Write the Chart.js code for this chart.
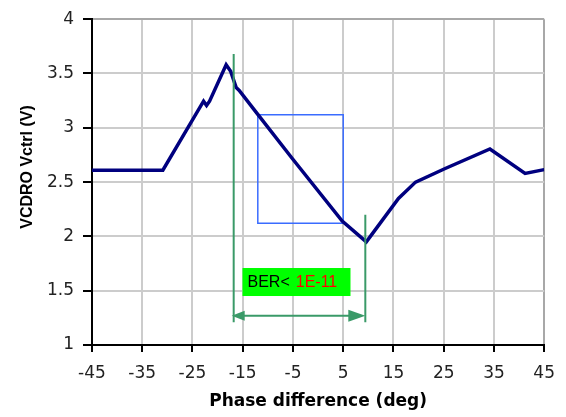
<!DOCTYPE html>
<html>
<head>
<meta charset="utf-8">
<script src="https://cdn.jsdelivr.net/npm/chart.js@4/dist/chart.umd.min.js"></script>
<style>
  html, body { margin: 0; padding: 0; background: #fff; }
  #wrap { width: 566px; height: 417px; }
</style>
</head>
<body>
<div id="wrap"><canvas id="chart" width="566" height="417"></canvas></div>
<script>
// VCDRO control voltage vs phase difference
const phaseDeg = [-45, -30.9, -22.8, -22.2, -21.6, -18.3, -17.4, -16.3, -15.7, -12.0, -5.1, 4.8, 9.6, 16.0, 19.4, 25.3, 34.2, 41.2, 45];
const vctrl    = [2.61, 2.61, 3.245, 3.205, 3.245, 3.58, 3.52, 3.37, 3.345, 3.123, 2.715, 2.141, 1.95, 2.35, 2.50, 2.625, 2.805, 2.58, 2.615];

const xTickValues = [-45, -35, -25, -15, -5, 5, 15, 25, 35, 45];
const yTickStep = 0.5;

// zoom window (blue box)
const boxPhase = [-12, 5];
const boxVolt = [2.12, 3.12];

// BER < 1E-11 window markers
const berLeftPhase = -16.8;
const berRightPhase = 9.4;
const berLeftTop = 3.68;
const berRightTop = 2.2;
const berBottom = 1.21;
const berArrowVolt = 1.27;
const berLabel = ['BER<', '1E-11'];
const berLabelPos = [-4.3, 1.58]; // centre of label (phase, volt)

const yTitle = 'VCDRO Vctrl (V)';

const green = '#3a9a68';
const tickFont = { family: '"DejaVu Sans", sans-serif', size: 17 };

function pts(xs, ys) { return xs.map((x, i) => ({ x: x, y: ys[i] })); }

const annotate = {
  id: 'annotate',
  afterDatasetsDraw(chart) {
    const { ctx, scales: { x, y } } = chart;
    ctx.save();
    // arrow shaft and heads
    const xl = x.getPixelForValue(berLeftPhase);
    const xr = x.getPixelForValue(berRightPhase);
    const ya = y.getPixelForValue(berArrowVolt);
    ctx.strokeStyle = green;
    ctx.fillStyle = green;
    ctx.lineWidth = 2;
    ctx.beginPath();
    ctx.moveTo(xl + 4, ya);
    ctx.lineTo(xr - 4, ya);
    ctx.stroke();
    ctx.beginPath();
    ctx.moveTo(xl - 2, ya);
    ctx.lineTo(xl + 11, ya - 5);
    ctx.lineTo(xl + 11, ya + 5);
    ctx.closePath();
    ctx.fill();
    ctx.beginPath();
    ctx.moveTo(xr, ya);
    ctx.lineTo(xr - 17, ya - 6);
    ctx.lineTo(xr - 17, ya + 6);
    ctx.closePath();
    ctx.fill();

    // label box
    const cx = x.getPixelForValue(berLabelPos[0]);
    const cy = y.getPixelForValue(berLabelPos[1]);
    const bw = 108, bh = 28;
    ctx.fillStyle = '#00ff00';
    ctx.fillRect(cx - bw / 2, cy - bh / 2, bw, bh);
    ctx.font = '16px "Liberation Sans", Arial, sans-serif';
    ctx.textBaseline = 'middle';
    ctx.textAlign = 'left';
    const w1 = ctx.measureText(berLabel[0]).width;
    const tx = cx - bw / 2 + 5;
    ctx.fillStyle = '#000';
    ctx.fillText(berLabel[0], tx, cy + 1);
    ctx.fillStyle = '#ff0000';
    ctx.fillText(berLabel[1], tx + w1 + 6, cy + 1);

    // y axis title
    ctx.translate(28, 167);
    ctx.rotate(-Math.PI / 2);
    ctx.textAlign = 'center';
    ctx.textBaseline = 'middle';
    ctx.fillStyle = '#000';
    ctx.font = 'bold 16px "Liberation Sans", Arial, sans-serif';
    ctx.fillText(yTitle, 0, 0);
    ctx.restore();
  }
};

const edgeGrid = (ctx, axisMax) => (ctx.tick && ctx.tick.value === axisMax ? '#a8a8a8' : '#cccccc');

new Chart(document.getElementById('chart').getContext('2d'), {
  type: 'scatter',
  data: {
    datasets: [
      {
        label: 'VCDRO Vctrl',
        data: pts(phaseDeg, vctrl),
        showLine: true,
        borderColor: '#00007f',
        borderWidth: 3.5,
        pointRadius: 0,
        tension: 0,
        order: 1
      },
      {
        label: 'window',
        data: pts([boxPhase[0], boxPhase[1], boxPhase[1], boxPhase[0], boxPhase[0]],
                  [boxVolt[1], boxVolt[1], boxVolt[0], boxVolt[0], boxVolt[1]]),
        showLine: true,
        borderColor: '#3a6cff',
        borderWidth: 1.5,
        pointRadius: 0,
        order: 2
      },
      {
        label: 'left marker',
        data: pts([berLeftPhase, berLeftPhase], [berLeftTop, berBottom]),
        showLine: true,
        borderColor: green,
        borderWidth: 2,
        pointRadius: 0,
        order: 0
      },
      {
        label: 'right marker',
        data: pts([berRightPhase, berRightPhase], [berRightTop, berBottom]),
        showLine: true,
        borderColor: green,
        borderWidth: 2,
        pointRadius: 0,
        order: 0
      }
    ]
  },
  options: {
    responsive: false,
    devicePixelRatio: 1,
    animation: false,
    layout: { padding: { left: 0, top: 15, right: 20, bottom: 0 } },
    plugins: {
      legend: { display: false },
      tooltip: { enabled: false }
    },
    scales: {
      x: {
        type: 'linear',
        min: -45,
        max: 45,
        afterBuildTicks: s => { s.ticks = xTickValues.map(v => ({ value: v })); },
        afterFit: s => { s.height = 72; },
        grid: { color: c => edgeGrid(c, 45), lineWidth: 2, tickLength: 7, tickColor: '#000' },
        border: { color: '#000', width: 2 },
        ticks: { autoSkip: false, maxRotation: 0, padding: 11, color: '#222', font: tickFont },
        title: {
          display: true,
          text: 'Phase difference (deg)',
          color: '#000',
          font: { family: '"DejaVu Sans", sans-serif', size: 17, weight: 'bold' },
          padding: { top: 0, bottom: 5 }
        }
      },
      y: {
        min: 1,
        max: 4,
        afterFit: s => { s.width = 92; },
        grid: { color: c => edgeGrid(c, 4), lineWidth: 2, tickLength: 9, tickColor: '#000' },
        border: { color: '#000', width: 2 },
        ticks: {
          stepSize: yTickStep, padding: 9, color: '#222', font: tickFont,
          callback: v => String(v)
        }
      }
    }
  },
  plugins: [annotate]
});
</script>
</body>
</html>
